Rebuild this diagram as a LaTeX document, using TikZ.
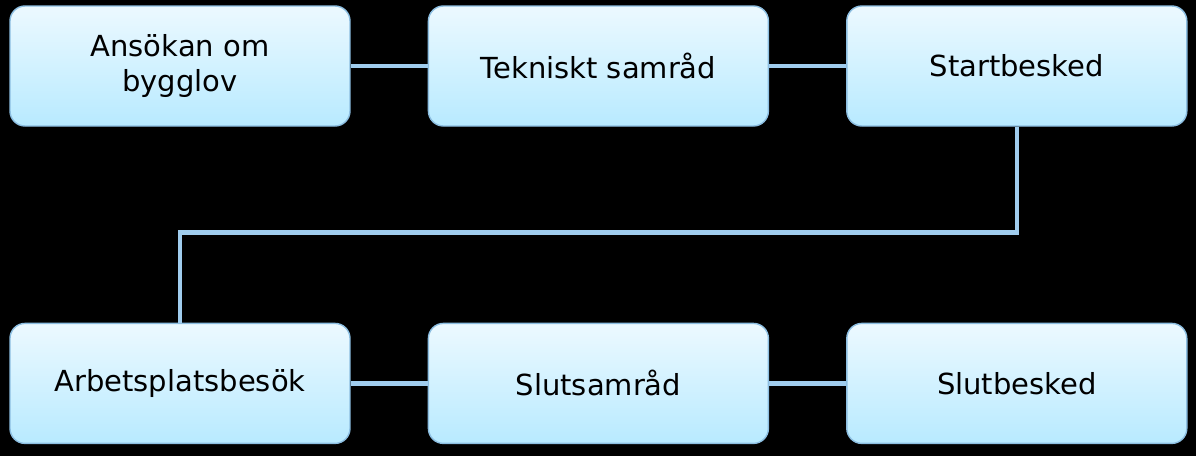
\documentclass[tikz,border=0pt]{standalone}
\usepackage{fontspec}
\setmainfont{DejaVu Sans}
\usetikzlibrary{positioning}

\definecolor{boxtop}{RGB}{236,249,255}
\definecolor{boxbot}{RGB}{184,234,255}
\definecolor{boxline}{RGB}{140,190,225}
\definecolor{linkblue}{RGB}{160,205,238}

\begin{document}
\begin{tikzpicture}[
  font=\fontsize{16.5}{20}\selectfont,
  node distance=1.54cm,
  step box/.style={draw=boxline, line width=0.8pt, rounded corners=0.3cm,
              top color=boxtop, bottom color=boxbot, align=center,
              minimum width=6.8cm, minimum height=2.4cm, text=black},
  link/.style={linkblue, line width=0.09cm}
]

% --- background / page size ---
\fill[black] (0,0) rectangle (23.92,-9.12);

% --- Nodes ---
\node[step box] (ansokan) at (3.6,-1.32) {Ansökan om\\bygglov};
\node[step box, right=of ansokan] (samrad)  {Tekniskt samråd};
\node[step box, right=of samrad]  (start)   {Startbesked};
\node[step box, below=3.92cm of ansokan] (besok) {Arbetsplatsbesök};
\node[step box, right=of besok]   (slutsamrad) {Slutsamråd};
\node[step box, right=of slutsamrad] (slut)  {Slutbesked};

% --- Connectors ---
\draw[link] (ansokan) -- (samrad);
\draw[link] (samrad) -- (start);
\draw[link] (start.south) -- ++(0,-2.12) -| (besok.north);
\draw[link] (besok) -- (slutsamrad);
\draw[link] (slutsamrad) -- (slut);

\end{tikzpicture}
\end{document}
